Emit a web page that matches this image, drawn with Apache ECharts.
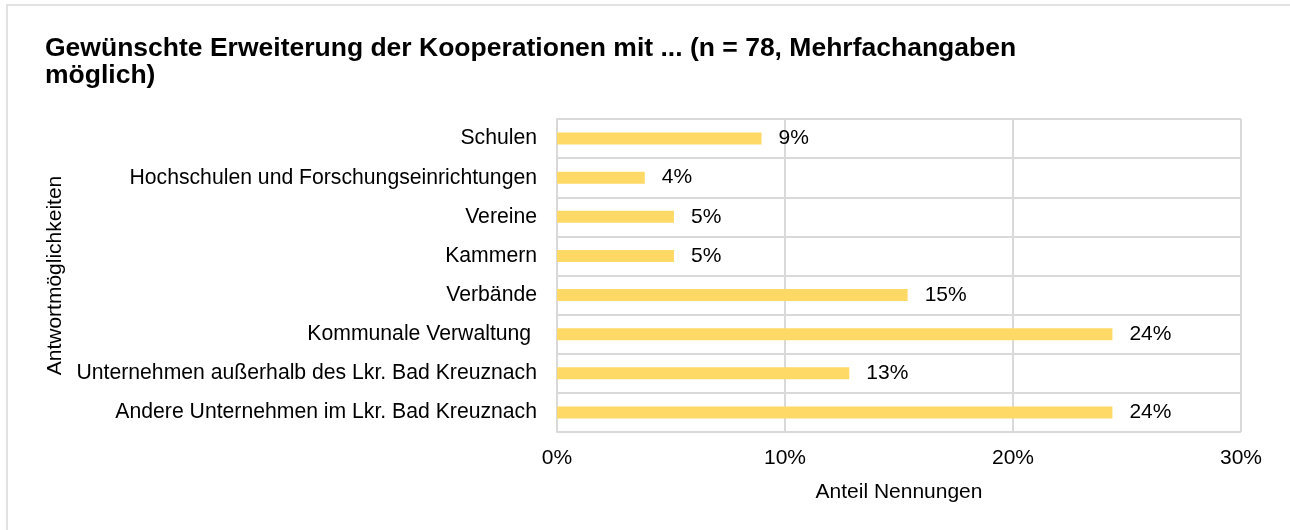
<!DOCTYPE html>
<html>
<head>
<meta charset="utf-8">
<script src="https://cdn.jsdelivr.net/npm/echarts@6/dist/echarts.min.js"></script>
<style>
  html, body { margin: 0; padding: 0; background: #fff; }
  #chart { width: 1290px; height: 530px; }
</style>
</head>
<body>
<div id="chart"></div>
<script>
// Antwortkategorien (von oben nach unten) und Anteil der Nennungen in Prozent (n = 78)
const categories = [
  'Schulen',
  'Hochschulen und Forschungseinrichtungen',
  'Vereine',
  'Kammern',
  'Verbände',
  'Kommunale Verwaltung ',
  'Unternehmen außerhalb des Lkr. Bad Kreuznach',
  'Andere Unternehmen im Lkr. Bad Kreuznach'
];
const shares = [8.97, 3.85, 5.13, 5.13, 15.38, 24.36, 12.82, 24.36];
const xTicks = [0, 10, 20, 30];

const font = '"Liberation Sans", Arial, sans-serif';
const chart = echarts.init(document.getElementById('chart'), null, { renderer: 'canvas' });

chart.setOption({
  animation: false,
  backgroundColor: '#ffffff',
  textStyle: { fontFamily: font },
  graphic: [{
    type: 'rect',
    shape: { x: 7, y: 5, width: 1300, height: 540 },
    style: { fill: 'none', stroke: '#d9d9d9', lineWidth: 1.5 },
    silent: true
  }],
  title: {
    text: 'Gewünschte Erweiterung der Kooperationen mit ... (n = 78, Mehrfachangaben\nmöglich)',
    left: 40,
    top: 30,
    textStyle: {
      fontFamily: font,
      fontSize: 26.5,
      fontWeight: 'bold',
      color: '#000',
      lineHeight: 27
    }
  },
  grid: { left: 557, right: 49, top: 119, bottom: 98, containLabel: false },
  xAxis: {
    type: 'value',
    min: xTicks[0],
    max: xTicks[xTicks.length - 1],
    interval: 10,
    name: 'Anteil Nennungen',
    nameLocation: 'middle',
    nameGap: 50,
    nameTextStyle: { fontFamily: font, fontSize: 21, color: '#000' },
    axisLine: { show: false },
    axisTick: { show: false },
    axisLabel: {
      margin: 16,
      fontFamily: font,
      fontSize: 21,
      color: '#000',
      formatter: v => v + '%'
    },
    splitLine: { show: true, lineStyle: { color: '#d9d9d9', width: 2 } }
  },
  yAxis: {
    type: 'category',
    data: categories,
    inverse: true,
    name: 'Antwortmöglichkeiten',
    nameLocation: 'middle',
    nameGap: 485,
    nameRotate: 90,
    nameTextStyle: { fontFamily: font, fontSize: 21, color: '#000' },
    axisLine: { show: true, lineStyle: { color: '#d9d9d9', width: 2 } },
    axisTick: { show: false },
    axisLabel: { margin: 20, fontFamily: font, fontSize: 21.2, color: '#000' },
    splitLine: { show: true, lineStyle: { color: '#d9d9d9', width: 2 } }
  },
  series: [{
    type: 'bar',
    data: shares,
    barWidth: 12,
    itemStyle: { color: '#ffd966' },
    label: {
      show: true,
      position: 'right',
      distance: 17,
      fontFamily: font,
      fontSize: 21,
      color: '#000',
      formatter: p => Math.round(p.value) + '%'
    }
  }]
});
</script>
</body>
</html>
